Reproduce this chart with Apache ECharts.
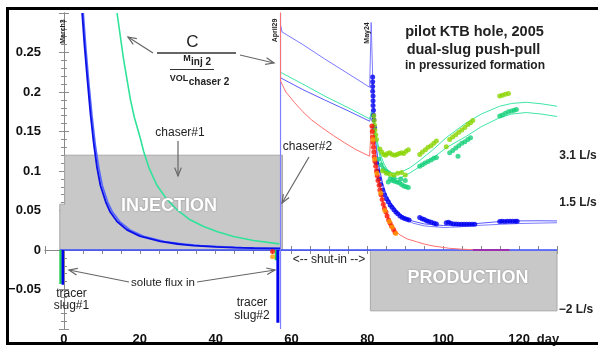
<!DOCTYPE html>
<html><head><meta charset="utf-8">
<script src="https://cdn.jsdelivr.net/npm/echarts@6.0.0/dist/echarts.min.js"></script>
<style>html,body{margin:0;padding:0;background:#fff}#c{width:598px;height:348px}</style>
</head><body><div id="c"></div>
<script>
// ---------- data ----------
const xLabelValues = [0, 20, 40, 60, 80, 100, 120];
const yLabelValues = [-0.05, 0, 0.05, 0.1, 0.15, 0.2, 0.25];
const injectionBox = [[-1.1,0],[-1.1,0.058],[0.2,0.058],[0.2,0.12],[57.6,0.12],[57.6,0]];
const productionBox = [[80.8,0],[80.8,-0.077],[130,-0.077],[130,0]];
const zeroLine = [[-1.1,0],[130,0]];
const chaser2Line = [[57.1,0.3],[57.1,-0.1]];
const blueInjA = [[4.8,0.30],[5.4,0.26],[6.1,0.22],[7.0,0.172],[7.85,0.135],[8.7,0.105],[9.6,0.082],[11,0.061],[12.2,0.048],[14,0.036],[16.6,0.0255],[20,0.0175],[25.4,0.0108],[30,0.0076],[34.2,0.0056],[40,0.004],[45,0.003],[50,0.0024],[57,0.002]];
const blueInjB = [[5.1,0.30],[5.8,0.255],[6.5,0.215],[7.4,0.17],[8.3,0.132],[9.2,0.104],[10.1,0.082],[11.5,0.061],[12.8,0.048],[14.7,0.036],[17.4,0.0255],[21,0.0175],[26.5,0.0108],[31.5,0.0076],[36,0.0056],[42,0.004],[47,0.003],[52,0.0024],[57,0.0018]];
const greenInj = [[14,0.30],[15.7,0.242],[17.5,0.191],[18.55,0.168],[20.1,0.142],[21,0.125],[22.5,0.103],[24.5,0.082],[27,0.065],[29.8,0.051],[33,0.039],[36.8,0.0297],[40.5,0.023],[44.7,0.017],[50,0.012],[56.8,0.0078]];
const blueUpper = [[57.1,0.285],[57.5,0.276],[63,0.26],[68.7,0.242],[75,0.223],[80.6,0.206],[81.0,0.288],[81.4,0.22],[81.7,0.18],[82.1,0.145],[82.6,0.118],[83.4,0.094],[84.5,0.075],[85.5,0.064],[87,0.053],[88.5,0.045],[90,0.039],[92,0.034],[95,0.0305],[100,0.0285],[104,0.0292],[108.7,0.031],[115,0.0325],[120,0.0335],[125,0.034],[130,0.0345]];
const blueLower = [[57.1,0.218],[63,0.203],[68.7,0.19],[75,0.176],[80.6,0.163],[81.1,0.172],[81.6,0.16],[82.2,0.135],[83,0.107],[84,0.085],[85,0.07],[86.5,0.057],[88,0.048],[90,0.041],[92,0.0365],[95,0.033],[100,0.031],[105,0.0315],[110,0.034],[115,0.036],[120,0.0368],[125,0.037],[130,0.0368]];
const greenUpper = [[57.1,0.225],[63,0.21],[68.7,0.195],[75,0.18],[80.6,0.166],[81.1,0.176],[81.5,0.168],[82.5,0.14],[83.5,0.12],[84.5,0.108],[85.5,0.1],[87,0.097],[88.6,0.098],[91.2,0.104],[94,0.114],[97.3,0.127],[101,0.143],[106.1,0.161],[110,0.172],[114.9,0.182],[118,0.1855],[121.9,0.187],[126,0.185],[130,0.182]];
const greenLower = [[81.5,0.165],[82.5,0.135],[83.5,0.115],[84.5,0.102],[85.5,0.094],[87,0.09],[88.6,0.091],[91.2,0.0975],[94,0.106],[97.3,0.1166],[101,0.13],[106.1,0.144],[110,0.156],[114.9,0.1675],[118,0.172],[121.9,0.174],[126,0.172],[130,0.169]];
const redLine = [[57.1,0.31],[57.1,0.214],[58.5,0.2],[60.8,0.1866],[63,0.175],[65.2,0.165],[68,0.155],[71,0.145],[74,0.1357],[77,0.127],[80.6,0.1187],[81.0,0.157],[81.5,0.15],[82,0.13],[82.5,0.105],[83.3,0.08],[84.2,0.058],[85.5,0.04],[86.8,0.027],[88.6,0.019],[90.5,0.014],[92.9,0.0106],[95,0.0075],[97.3,0.0051],[101.7,0.0021],[105,0.001],[108,0.0003],[117.5,0]];
const purpleLine = [[107.8,0],[117.5,0]];
const slug1Green = [[-0.9,0],[-0.9,-0.043]];
const slug1Blue = [[-0.3,0],[-0.3,-0.044]];
const slug2Green = [[55.9,0],[55.9,-0.013]];
const slug2Blue = [[56.4,0],[56.4,-0.092]];
const redDots = [[55.0,-0.002],[81.2,0.157],[81.3,0.15],[81.4,0.143],[81.5,0.136],[81.6,0.13],[81.7,0.124],[81.8,0.118],[82.0,0.112],[82.2,0.106],[82.4,0.1],[82.6,0.094],[82.8,0.088],[83.1,0.082],[83.3,0.076],[83.6,0.07],[83.9,0.064],[84.2,0.058],[84.5,0.053],[84.9,0.048],[85.2,0.043],[85.6,0.038],[86.0,0.034],[86.4,0.03],[86.9,0.026],[87.3,0.022]];
const orangeDots = [[55.0,-0.0085],[81.5,0.14],[81.9,0.115],[82.5,0.097],[83.5,0.072],[84.6,0.05],[85.8,0.036],[86.5,0.029],[87.5,0.021]];
const blueDots = [[81.4,0.219],[81.4,0.213],[81.4,0.207],[81.4,0.201],[81.5,0.195],[81.5,0.189],[81.5,0.183],[81.6,0.177],[81.6,0.171],[81.7,0.165],[81.9,0.155],[82.4,0.11],[82.7,0.1],[83.1,0.09],[83.5,0.083],[84,0.076],[84.5,0.07],[85,0.065],[85.5,0.061],[86,0.057],[86.5,0.054],[87,0.051],[87.5,0.048],[88,0.046],[88.6,0.043],[89.2,0.041],[89.8,0.04],[90.4,0.039],[91,0.038],[93.8,0.041],[94.4,0.0395],[95,0.0385],[95.6,0.037],[96.2,0.036],[96.9,0.035],[97.6,0.034],[98.2,0.033],[100.8,0.0345],[101.4,0.035],[102,0.034],[102.7,0.033],[103.4,0.033],[104.1,0.0325],[104.8,0.0325],[105.5,0.0325],[106.2,0.0325],[106.9,0.0325],[107.6,0.0325],[108.3,0.0325],[114.9,0.036],[115.5,0.0365],[116.2,0.036],[116.9,0.0365],[117.6,0.0365],[118.3,0.0365],[119,0.0365],[119.5,0.0365]];
const yellowGreenDots = [[81.7,0.17],[81.8,0.164],[81.9,0.158],[82.0,0.152],[82.2,0.146],[82.4,0.14],[83.3,0.128],[83.8,0.124],[84.3,0.121],[84.8,0.12],[85.3,0.122],[85.9,0.123],[86.5,0.121],[87.2,0.12],[87.8,0.121],[88.4,0.122],[89,0.123],[89.6,0.122],[90.2,0.125],[90.8,0.127],[84,0.1],[85,0.097],[86,0.096],[87,0.095],[88,0.097],[89,0.098],[90,0.095],[93.8,0.121],[94.5,0.124],[95.3,0.127],[96,0.13],[96.8,0.132],[97.5,0.135],[98.2,0.138],[100.8,0.1306],[101.7,0.14],[102.5,0.143],[103.3,0.146],[104.1,0.149],[104.9,0.152],[105.7,0.155],[106.5,0.159],[107.2,0.161],[107.8,0.164],[114.9,0.195],[115.6,0.196],[116.4,0.197],[117.2,0.198]];
const tealDots = [[83,0.115],[83.6,0.108],[84.2,0.103],[84.8,0.1],[85.4,0.098],[86,0.09],[86.6,0.088],[87.2,0.087],[87.8,0.086],[88.4,0.085],[89,0.083],[89.6,0.081],[90.2,0.08],[90.8,0.079],[85.5,0.086],[87,0.092],[88.8,0.09],[90,0.088],[93.8,0.106],[94.5,0.108],[95.2,0.11],[96,0.112],[96.8,0.114],[97.5,0.116],[98.2,0.117],[101.7,0.123],[102.5,0.126],[103.3,0.129],[104.1,0.132],[104.9,0.135],[105.7,0.137],[106.5,0.14],[107.2,0.142],[103.9,0.1187],[114.9,0.1696],[115.6,0.171],[116.4,0.173],[117.2,0.175],[118,0.176],[118.7,0.177],[119.3,0.178]];

// ---------- helpers ----------
const FF = '"Liberation Sans", Arial, sans-serif';
function txt(x, y, s, font, extra) {
  return Object.assign({ type: 'text', x: x, y: y, z: 100,
    style: { text: s, fill: '#222', font: font + ' ' + FF, align: 'center', textAlign: 'center', verticalAlign: 'middle', textVerticalAlign: 'middle' } }, extra || {});
}
function arrow(x1, y1, x2, y2) {
  const a = Math.atan2(y2 - y1, x2 - x1), h = 9, w = 0.38;
  const p1 = [x2 - h * Math.cos(a - w), y2 - h * Math.sin(a - w)];
  const p2 = [x2 - h * Math.cos(a + w), y2 - h * Math.sin(a + w)];
  return [
    { type: 'line', z: 100, shape: { x1: x1, y1: y1, x2: x2, y2: y2 }, style: { stroke: '#666', lineWidth: 1.2 } },
    { type: 'polyline', z: 100, shape: { points: [p1, [x2, y2], p2] }, style: { stroke: '#666', lineWidth: 1.2, fill: null } }
  ];
}
function line(data, color, width, z) {
  return { type: 'line', data: data, showSymbol: false, symbol: 'none', lineStyle: { color: color, width: width }, z: z || 3, silent: true, animation: false };
}
function dots(data, color, size) {
  return { type: 'scatter', data: data, symbol: 'circle', symbolSize: size || 5, itemStyle: { color: color }, z: 5, silent: true, animation: false };
}
function box(data) {
  return { type: 'line', data: data, showSymbol: false, symbol: 'none', lineStyle: { color: '#a8a8a8', width: 1 },
    areaStyle: { color: '#c8c8c8', opacity: 1, origin: 0 }, z: 1, silent: true, animation: false };
}
function yFmt(v) {
  const r = Math.round(v * 100) / 100;
  if (!yLabelValues.some(t => Math.abs(t - r) < 1e-9)) return '';
  return r < 0 ? '\u2212' + String(-r) : String(r);
}
function xFmt(v) {
  return xLabelValues.indexOf(Math.round(v)) >= 0 ? String(Math.round(v)) : '';
}

const axisGray = '#8a8a8a';
const chart = echarts.init(document.getElementById('c'), null, { renderer: 'canvas' });
const graphics = [].concat(
  [{ type: 'rect', z: 200, shape: { x: 7.5, y: 8.5, width: 640, height: 335 }, style: { stroke: '#000', lineWidth: 3, fill: null } }],
  arrow(153, 53, 128, 37),
  arrow(240, 55, 274, 63),
  arrow(178, 141, 178, 176),
  arrow(309, 157, 282, 203),
  arrow(129, 282, 69, 270),
  arrow(197, 282, 275, 270),
  [
    txt(192.5, 42.5, 'C', '17px'),
    { type: 'line', z: 100, shape: { x1: 157, y1: 53, x2: 236, y2: 53 }, style: { stroke: '#333', lineWidth: 1.5 } },
    txt(187, 58.5, 'M', 'bold 9px'),
    txt(201, 62.5, 'inj 2', 'bold 10px'),
    { type: 'line', z: 100, shape: { x1: 170, y1: 69.5, x2: 214, y2: 69.5 }, style: { stroke: '#333', lineWidth: 1 } },
    txt(179, 78.5, 'VOL', 'bold 9px'),
    txt(209, 82, 'chaser 2', 'bold 10px'),
    txt(180, 133, 'chaser#1', '12px'),
    txt(307.5, 147, 'chaser#2', '12px'),
    txt(169, 206, 'INJECTION', 'bold 18px', { style: { text: 'INJECTION', fill: '#fff', font: 'bold 18px ' + FF, align: 'center', textAlign: 'center', verticalAlign: 'middle', textVerticalAlign: 'middle', textShadowColor: '#888', textShadowBlur: 2 } }),
    txt(468, 278, 'PRODUCTION', 'bold 18px', { style: { text: 'PRODUCTION', fill: '#fff', font: 'bold 18px ' + FF, align: 'center', textAlign: 'center', verticalAlign: 'middle', textVerticalAlign: 'middle', textShadowColor: '#888', textShadowBlur: 2 } }),
    txt(163, 282.5, 'solute flux in', '11.5px'),
    txt(71.5, 293.5, 'tracer', '12px'),
    txt(71.5, 306, 'slug#1', '12px'),
    txt(252, 303, 'tracer', '12px'),
    txt(252, 315.5, 'slug#2', '12px'),
    txt(329, 259.5, '<-- shut-in -->', '12px'),
    txt(474.5, 31.5, 'pilot KTB hole, 2005', 'bold 14.5px'),
    txt(473.5, 50, 'dual-slug push-pull', 'bold 14.5px'),
    txt(475, 65.5, 'in pressurized formation', 'bold 12px'),
    txt(63, 31.5, 'March3', 'bold 7px', { rotation: Math.PI / 2 }),
    txt(275.5, 30.5, 'April29', 'bold 7px', { rotation: Math.PI / 2 }),
    txt(367, 33, 'May24', 'bold 7px', { rotation: Math.PI / 2 }),
    txt(578, 156, '3.1 L/s', 'bold 12px'),
    txt(578, 203, '1.5 L/s', 'bold 12px'),
    txt(576, 310, '\u22122 L/s', 'bold 12px'),
    txt(548, 339, 'day', 'bold 13px')
  ]
);

chart.setOption({
  animation: false,
  backgroundColor: '#fff',
  grid: { left: 45, right: 41, top: 13, bottom: 19, containLabel: false },
  xAxis: [
    { type: 'value', min: -5, max: 130, interval: 5, position: 'bottom',
      axisLine: { lineStyle: { color: axisGray } },
      axisTick: { inside: true, length: 4, lineStyle: { color: axisGray } },
      axisLabel: { formatter: xFmt, color: '#111', fontWeight: 'bold', fontSize: 13, fontFamily: FF, margin: 4, showMinLabel: true, showMaxLabel: true },
      splitLine: { show: false } },
    { type: 'value', min: -5, max: 130, interval: 5, position: 'top',
      axisLine: { lineStyle: { color: axisGray } },
      axisTick: { inside: true, length: 4, lineStyle: { color: axisGray } },
      axisLabel: { show: false }, splitLine: { show: false } }
  ],
  yAxis: [
    { type: 'value', min: -0.1, max: 0.3, interval: 0.05, position: 'left',
      axisLine: { show: true, lineStyle: { color: axisGray } },
      axisTick: { show: true, inside: true, length: 5, lineStyle: { color: axisGray } },
      minorTick: { show: true, splitNumber: 5, length: 3, lineStyle: { color: axisGray } },
      axisLabel: { formatter: yFmt, color: '#111', fontWeight: 'bold', fontSize: 13, fontFamily: FF, margin: 4 },
      splitLine: { show: false } },
    { type: 'value', min: -0.1, max: 0.3, interval: 0.05, position: 'right',
      axisLine: { show: true, lineStyle: { color: axisGray } },
      axisTick: { show: true, inside: true, length: 5, lineStyle: { color: axisGray } },
      minorTick: { show: true, splitNumber: 5, length: 3, lineStyle: { color: axisGray } },
      axisLabel: { show: false }, splitLine: { show: false } }
  ],
  series: [
    box(injectionBox),
    box(productionBox),
    line(zeroLine, '#3a4cff', 1.5, 2),
    line(chaser2Line, '#8080ff', 1.2, 2),
    line(blueInjB, '#5566ff', 1.6),
    line(blueInjA, '#0a10e6', 1.8),
    line(greenInj, '#2fe39a', 1.6),
    line(blueUpper, '#7b7bff', 1),
    line(blueLower, '#5a5aff', 1),
    line(greenUpper, '#3fe6a8', 1),
    line(greenLower, '#3fe6a8', 1),
    line(redLine, '#ff7070', 1),
    line(purpleLine, '#9a30b0', 2, 4),
    line(slug1Green, '#22cc55', 2.5, 4),
    line(slug1Blue, '#0000ee', 2.5, 4),
    line(slug2Green, '#22cc55', 2.5, 4),
    line(slug2Blue, '#0000ee', 3, 4),
    dots(blueDots, '#0000f0', 5),
    dots(tealDots, '#14d07a', 5),
    dots(yellowGreenDots, '#8ad400', 5),
    dots(redDots, '#ff1400', 5),
    dots(orangeDots, '#ff9a00', 5)
  ],
  graphic: { elements: graphics }
});
</script>
</body></html>
